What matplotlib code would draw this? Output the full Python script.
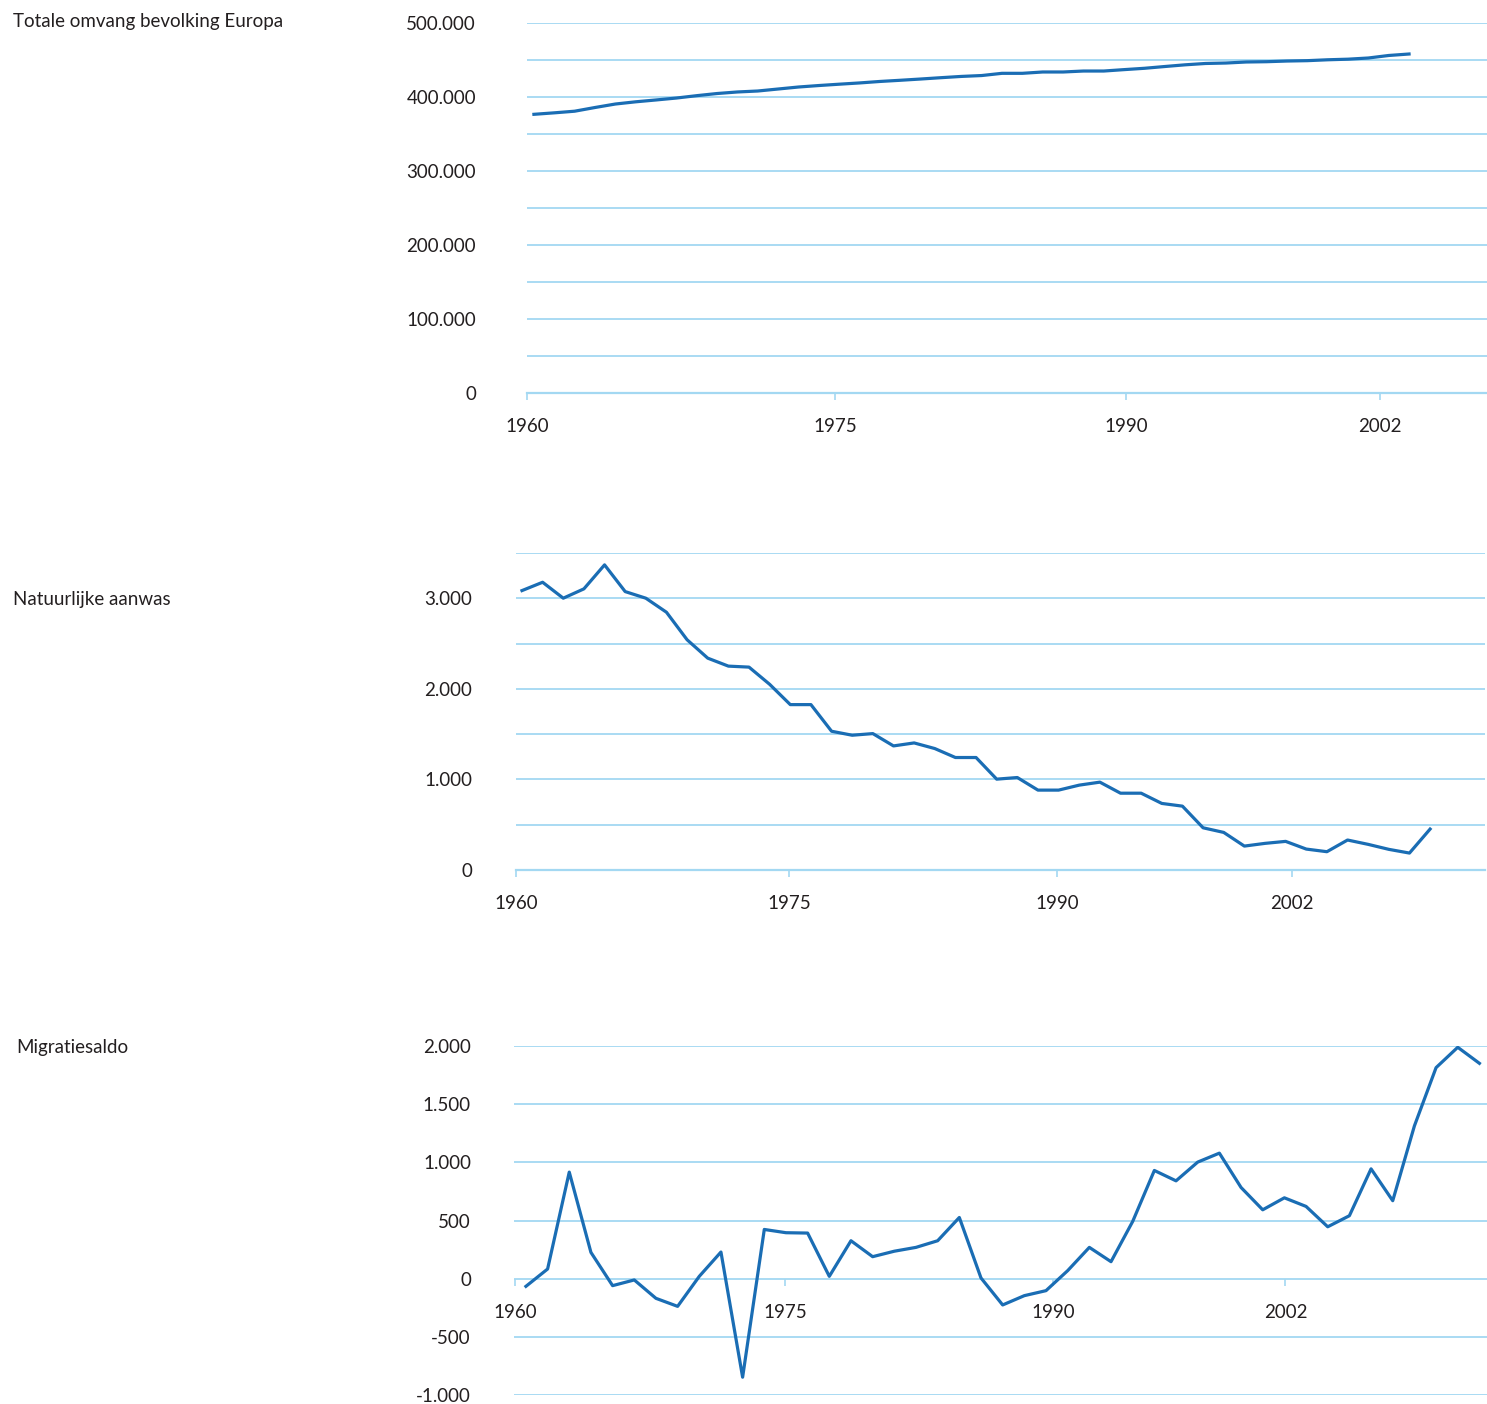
import numpy as np
import matplotlib.pyplot as plt
from matplotlib.ticker import FuncFormatter, MultipleLocator

# ==================== Data ====================
# Totale omvang bevolking Europa (x 1000), one value per year
bevolking = [376600, 378600, 380800, 385800, 390500, 393500, 396000, 398600,
             401800, 404700, 406800, 408100, 410800, 413500, 415500, 417300,
             419000, 421000, 422600, 424300, 426100, 427800, 429000, 432000,
             432000, 433800, 433800, 435100, 435100, 437000, 438800, 441200,
             443500, 445300, 445900, 447300, 447700, 448600, 449100, 450300,
             451100, 452700, 456100, 458100]

# Natuurlijke aanwas
aanwas = [3085, 3177, 3001, 3104, 3369, 3074, 3001, 2846, 2542, 2339,
          2251, 2240, 2050, 1826, 1826, 1532, 1488, 1506, 1370, 1403,
          1341, 1242, 1242, 1003, 1021, 882, 882, 937, 970, 848,
          848, 735, 705, 466, 415, 264, 294, 316, 231, 202,
          331, 283, 228, 187, 452]

# Migratiesaldo
migratie = [-66, 83, 916, 226, -60, -11, -169, -238, 20, 229,
            -847, 423, 395, 392, 20, 326, 189, 236, 269, 326,
            526, 6, -226, -146, -103, 69, 269, 146, 492, 930,
            841, 1002, 1079, 784, 592, 695, 621, 446, 541, 944,
            670, 1313, 1814, 1989, 1851]

tick_labels = ['1960', '1975', '1990', '2002']

titles = ['Totale omvang bevolking Europa', 'Natuurlijke aanwas', 'Migratiesaldo']

# ==================== Style ====================
W, H = 1487, 1404
LINE_COLOR = '#1a6db4'
GRID_COLOR = '#a3d8f2'
TEXT_COLOR = '#231f20'
FONT = 'Lato'
NUM_SIZE = 13.5

plt.rcParams['font.family'] = [FONT, 'DejaVu Sans']


def dutch(v, pos=None):
    return f"{v:,.0f}".replace(",", ".")


def make_axes(fig, left, top, right, bottom):
    """pixel box -> axes"""
    return fig.add_axes([left / W, 1 - bottom / H, (right - left) / W, (bottom - top) / H])


def style_axes(ax, ylim, grid_step, label_step, xlim, tick_pos, ypad_px):
    ax.set_ylim(*ylim)
    ax.set_xlim(*xlim)
    for s in ax.spines.values():
        s.set_visible(False)
    ax.yaxis.set_major_locator(MultipleLocator(label_step))
    ax.yaxis.set_minor_locator(MultipleLocator(grid_step))
    ax.yaxis.set_major_formatter(FuncFormatter(dutch))
    ax.grid(True, axis='y', which='both', color=GRID_COLOR, linewidth=1.3)
    ax.set_axisbelow(True)
    ax.tick_params(axis='y', which='both', length=0, labelsize=NUM_SIZE,
                   labelcolor=TEXT_COLOR, pad=ypad_px * 0.72)
    ax.set_xticks(tick_pos)
    ax.set_xticklabels(tick_labels)
    ax.tick_params(axis='x', length=5, width=1.2, color=GRID_COLOR,
                   labelsize=NUM_SIZE, labelcolor=TEXT_COLOR, pad=13)


fig = plt.figure(figsize=(W / 100, H / 100), dpi=100)

# --- top: population ---
ax1 = make_axes(fig, 527, 23, 1487, 393)
ax1.plot(np.arange(len(bevolking)), bevolking, color=LINE_COLOR, linewidth=2.3)
style_axes(ax1, (0, 500000), 50000, 100000, (-0.34, 46.83),
           [-0.34, 14.79, 29.09, 41.57], ypad_px=51)
ax1.axhline(0, color=GRID_COLOR, linewidth=1.6, clip_on=False)

# --- middle: natural growth ---
ax2 = make_axes(fig, 516, 553, 1485, 870)
ax2.plot(np.arange(len(aanwas)), aanwas, color=LINE_COLOR, linewidth=2.3)
style_axes(ax2, (0, 3500), 500, 1000, (-0.29, 46.66),
           [-0.29, 12.94, 25.92, 37.3], ypad_px=44)
ax2.axhline(0, color=GRID_COLOR, linewidth=1.6, clip_on=False)

# --- bottom: migration ---
ax3 = make_axes(fig, 514, 1046, 1487, 1395)
ax3.plot(np.arange(len(migratie)), migratie, color=LINE_COLOR, linewidth=2.3)
style_axes(ax3, (-1000, 2000), 500, 500, (-0.55, 44.35),
           [-0.51, 11.95, 24.32, 35.05], ypad_px=43)
# x-axis sits on the zero line
ax3.spines['bottom'].set_position(('data', 0))
ax3.xaxis.get_major_ticks()[0].tick1line.set_color(TEXT_COLOR)

# panel titles
fig.text(13 / W, 1 - 22 / H, titles[0], fontsize=13.5, color=TEXT_COLOR, va='center', ha='left')
fig.text(13 / W, 1 - 599 / H, titles[1], fontsize=13.5, color=TEXT_COLOR, va='center', ha='left')
fig.text(16 / W, 1 - 1048 / H, titles[2], fontsize=13.5, color=TEXT_COLOR, va='center', ha='left')

fig.savefig('out.png', dpi=100, facecolor='white')
